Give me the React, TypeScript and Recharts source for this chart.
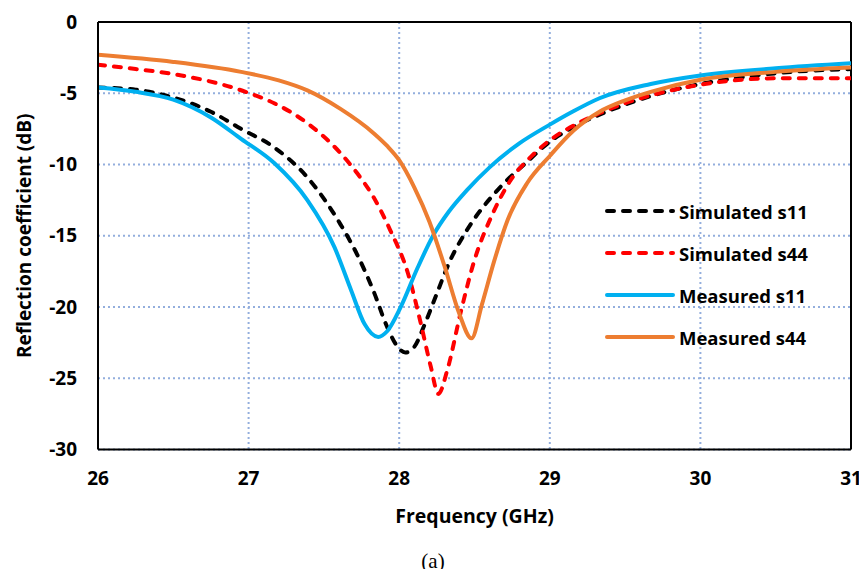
import React from "react";
import {
  CartesianGrid,
  Line,
  LineChart,
  ReferenceLine,
  XAxis,
  YAxis,
} from "recharts";

const freqTicks = [26, 27, 28, 29, 30, 31];
const dbTicks = [-30, -25, -20, -15, -10, -5, 0];

// Simulated s11 (black dashed)
const simS11Freq = [26.0, 26.25, 26.5, 26.75, 26.95, 27.17, 27.39, 27.61, 27.72, 27.83, 27.92, 27.99, 28.04, 28.1, 28.17, 28.23, 28.34, 28.45, 28.67, 28.85, 29.0, 29.17, 29.33, 29.5, 29.67, 30.0, 30.5, 31.0];
const simS11Db = [-4.6, -4.75, -5.3, -6.3, -7.5, -8.8, -10.9, -14.2, -16.3, -18.9, -21.4, -22.8, -23.2, -22.8, -21.2, -19.6, -16.7, -14.6, -11.6, -9.8, -8.4, -7.3, -6.5, -5.8, -5.2, -4.35, -3.6, -3.3];

// Simulated s44 (red dashed)
const simS44Freq = [26.0, 26.25, 26.5, 26.98, 27.17, 27.39, 27.61, 27.72, 27.83, 27.94, 28.06, 28.14, 28.21, 28.26, 28.32, 28.41, 28.5, 28.61, 28.74, 28.89, 29.0, 29.17, 29.33, 29.5, 29.67, 30.0, 30.5, 31.0];
const simS44Db = [-3.0, -3.3, -3.65, -4.9, -5.7, -7.1, -9.2, -10.6, -12.3, -14.6, -17.7, -21.0, -24.2, -26.1, -24.4, -20.3, -16.7, -13.7, -11.1, -9.3, -8.3, -7.2, -6.4, -5.7, -5.15, -4.4, -3.95, -3.95];

// Measured s11 (blue)
const measS11Freq = [26.0, 26.25, 26.5, 26.75, 26.95, 27.17, 27.39, 27.57, 27.68, 27.77, 27.86, 27.92, 28.01, 28.12, 28.23, 28.33, 28.45, 28.6, 28.8, 29.0, 29.15, 29.33, 29.67, 30.0, 30.5, 31.0];
const measS11Db = [-4.6, -4.9, -5.45, -6.7, -8.2, -9.9, -12.5, -15.8, -18.8, -21.2, -22.1, -21.7, -20.0, -17.3, -14.9, -13.3, -11.8, -10.2, -8.5, -7.2, -6.3, -5.35, -4.35, -3.75, -3.25, -2.9];

// Measured s44 (orange)
const measS44Freq = [26.0, 26.5, 26.95, 27.2, 27.39, 27.61, 27.83, 27.92, 28.0, 28.1, 28.2, 28.3, 28.4, 28.48, 28.55, 28.63, 28.72, 28.85, 29.0, 29.16, 29.33, 29.5, 29.67, 30.0, 30.5, 31.0];
const measS44Db = [-2.3, -2.8, -3.5, -4.1, -4.8, -6.1, -7.8, -8.7, -9.7, -11.6, -14.0, -17.1, -20.5, -22.2, -19.8, -16.8, -13.9, -11.3, -9.4, -7.6, -6.3, -5.5, -4.9, -4.05, -3.5, -3.2];

const toPoints = (freq: number[], db: number[]) =>
  freq.map((f, i) => ({ f, db: db[i] }));

const series = [
  { name: "Simulated s11", color: "#000000", dash: "7 9", data: toPoints(simS11Freq, simS11Db) },
  { name: "Simulated s44", color: "#FF0000", dash: "7 9", data: toPoints(simS44Freq, simS44Db) },
  { name: "Measured s11", color: "#00B0F0", dash: undefined, data: toPoints(measS11Freq, measS11Db) },
  { name: "Measured s44", color: "#ED7D31", dash: undefined, data: toPoints(measS44Freq, measS44Db) },
];

const FONT = "'Open Sans', Lato, sans-serif";
const GRID = "#93AEDD";

function YTitle({ viewBox }: any) {
  const x = viewBox.x - 14;
  const y = viewBox.y + viewBox.height / 2;
  return (
    <text
      x={x}
      y={y}
      transform={`rotate(-90, ${x}, ${y})`}
      textAnchor="middle"
      dominantBaseline="central"
      fontFamily={FONT}
      fontWeight={700}
      fontSize={19}
      fill="#000"
    >
      Reflection coefficient (dB)
    </text>
  );
}

function XTitle({ viewBox }: any) {
  return (
    <text
      x={viewBox.x + viewBox.width / 2}
      y={523}
      textAnchor="middle"
      fontFamily={FONT}
      fontWeight={700}
      fontSize={19.5}
      fill="#000"
    >
      Frequency (GHz)
    </text>
  );
}

export default function App() {
  return (
    <div style={{ margin: -8, position: "relative", width: 867, height: 577, background: "#fff" }}>
      <LineChart
        width={867}
        height={577}
        margin={{ top: 22, right: 16, bottom: 97.5, left: 38 }}
      >
        <CartesianGrid stroke={GRID} strokeDasharray="2 3" strokeWidth={2} />
        <XAxis
          type="number"
          dataKey="f"
          domain={[26, 31]}
          ticks={freqTicks}
          allowDataOverflow
          height={30}
          stroke="#000"
          strokeWidth={2}
          tickLine={false}
          tickSize={0}
          tickMargin={22}
          tick={{ fill: "#000", fontFamily: FONT, fontWeight: 700, fontSize: 19 }}
          label={<XTitle />}
        />
        <YAxis
          type="number"
          domain={[-30, 0]}
          ticks={dbTicks}
          allowDataOverflow
          width={60}
          stroke="#000"
          strokeWidth={2}
          tickLine={false}
          tickSize={0}
          tickMargin={21}
          tick={{ fill: "#000", fontFamily: FONT, fontWeight: 700, fontSize: 19 }}
          label={<YTitle />}
        />
        <ReferenceLine y={0} stroke="#000" strokeWidth={2} />
        <ReferenceLine x={31} stroke="#000" strokeWidth={2} />
        {series.map((s) => (
          <Line
            key={s.name}
            data={s.data}
            dataKey="db"
            name={s.name}
            type="monotone"
            stroke={s.color}
            strokeWidth={4}
            strokeDasharray={s.dash}
            strokeLinecap="round"
            dot={false}
            activeDot={false}
            isAnimationActive={false}
          />
        ))}
      </LineChart>

      <div style={{ position: "absolute", left: 605, top: 190 }}>
        {series.map((s) => (
          <div key={s.name} style={{ display: "flex", alignItems: "center", height: 42 }}>
            <svg width={70} height={10} style={{ display: "block" }}>
              <line
                x1={2}
                y1={5}
                x2={68}
                y2={5}
                stroke={s.color}
                strokeWidth={4}
                strokeDasharray={s.dash}
                strokeLinecap="round"
              />
            </svg>
            <span
              style={{
                marginLeft: 4,
                fontFamily: FONT,
                fontWeight: 700,
                fontSize: 18.5,
                color: "#000",
              }}
            >
              {s.name}
            </span>
          </div>
        ))}
      </div>

      <div
        style={{
          position: "absolute",
          left: 413,
          top: 549,
          width: 40,
          textAlign: "center",
          fontFamily: "'Liberation Serif', serif",
          fontSize: 21,
          color: "#000",
        }}
      >
        (a)
      </div>
    </div>
  );
}
